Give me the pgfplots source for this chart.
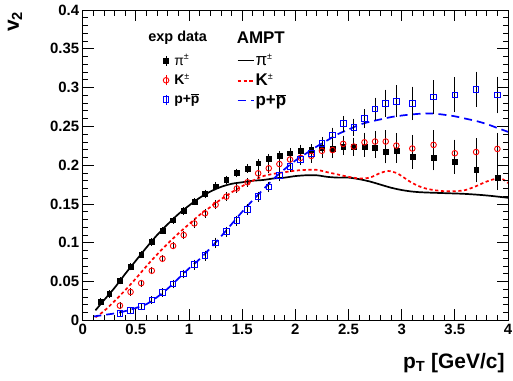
\documentclass[border=0pt]{standalone}
\usepackage{fontspec}
\setmainfont{Liberation Sans}
\usepackage{pgfplots}
\pgfplotsset{compat=1.18}
\usepackage{pgfplotstable}

\pgfplotstableread{
x y e
0.17 0.024 0.002
0.25 0.034 0.002
0.35 0.051 0.002
0.45 0.069 0.002
0.55 0.085 0.002
0.65 0.101 0.002
0.75 0.116 0.002
0.85 0.129 0.002
0.95 0.141 0.002
1.05 0.153 0.002
1.15 0.163 0.003
1.25 0.173 0.003
1.35 0.181 0.003
1.45 0.190 0.003
1.55 0.196 0.003
1.65 0.2025 0.003
1.75 0.208 0.004
1.85 0.212 0.004
1.95 0.2155 0.004
2.05 0.219 0.005
2.15 0.2196 0.005
2.25 0.223 0.006
2.35 0.2215 0.007
2.45 0.224 0.008
2.55 0.2235 0.009
2.65 0.2235 0.010
2.75 0.2226 0.011
2.85 0.217 0.012
2.95 0.219 0.013
3.1 0.211 0.013
3.3 0.210 0.014
3.5 0.205 0.0135
3.7 0.194 0.0135
3.9 0.184 0.0135
}\pion

\pgfplotstableread{
x y e
0.35 0.019 0.002
0.45 0.0366 0.002
0.55 0.048 0.002
0.65 0.064 0.002
0.75 0.0795 0.002
0.85 0.096 0.002
0.95 0.110 0.002
1.05 0.125 0.003
1.15 0.138 0.003
1.25 0.149 0.003
1.35 0.1594 0.003
1.45 0.170 0.003
1.55 0.178 0.003
1.65 0.1895 0.004
1.75 0.196 0.004
1.85 0.2015 0.004
1.95 0.2073 0.005
2.05 0.2095 0.005
2.15 0.212 0.006
2.25 0.2185 0.006
2.35 0.2195 0.007
2.45 0.2275 0.008
2.55 0.224 0.009
2.65 0.2295 0.010
2.75 0.2305 0.011
2.85 0.2305 0.012
2.95 0.2253 0.013
3.1 0.2215 0.015
3.3 0.2262 0.0165
3.5 0.2154 0.015
3.7 0.217 0.015
3.9 0.221 0.018
}\kaon

\pgfplotstableread{
x y e
0.35 0.009 0.002
0.45 0.0125 0.002
0.55 0.0177 0.002
0.65 0.0263 0.002
0.75 0.036 0.003
0.85 0.047 0.003
0.95 0.0598 0.003
1.05 0.0718 0.004
1.15 0.0834 0.004
1.25 0.100 0.004
1.35 0.1143 0.004
1.45 0.1285 0.004
1.55 0.143 0.004
1.65 0.1594 0.004
1.75 0.172 0.004
1.85 0.187 0.005
1.95 0.1985 0.005
2.05 0.2076 0.005
2.15 0.2155 0.006
2.25 0.228 0.006
2.35 0.2388 0.007
2.45 0.2535 0.0075
2.55 0.249 0.0086
2.65 0.260 0.0097
2.75 0.2724 0.012
2.85 0.2798 0.015
2.95 0.2825 0.018
3.1 0.2798 0.019
3.3 0.288 0.019
3.5 0.2905 0.020
3.7 0.298 0.020
3.9 0.2905 0.021
}\proton

\pgfplotstableread{
x y
0.12 0.013
0.2 0.026
0.3 0.042
0.4 0.060
0.5 0.077
0.6 0.094
0.7 0.110
0.8 0.124
0.9 0.137
1.0 0.148
1.1 0.158
1.2 0.166
1.3 0.172
1.4 0.176
1.5 0.178
1.6 0.180
1.7 0.181
1.8 0.183
1.9 0.184
2.0 0.186
2.1 0.187
2.2 0.187
2.3 0.185
2.4 0.184
2.5 0.184
2.6 0.182
2.7 0.179
2.8 0.175
2.9 0.171
3.0 0.168
3.1 0.166
3.2 0.165
3.4 0.164
3.6 0.163
3.8 0.161
4.0 0.158
}\amptpi

\pgfplotstableread{
x y
0.12 0.004
0.2 0.012
0.3 0.025
0.4 0.039
0.5 0.054
0.6 0.070
0.7 0.085
0.8 0.099
0.9 0.112
1.0 0.124
1.1 0.136
1.2 0.146
1.3 0.156
1.4 0.165
1.5 0.173
1.6 0.180
1.7 0.186
1.8 0.189
1.9 0.191
2.0 0.193
2.1 0.194
2.2 0.194
2.3 0.191
2.4 0.188
2.5 0.185
2.6 0.183
2.7 0.184
2.8 0.190
2.875 0.1925
2.95 0.190
3.0 0.186
3.1 0.177
3.2 0.171
3.3 0.168
3.4 0.1665
3.5 0.1665
3.6 0.168
3.7 0.173
3.8 0.179
3.9 0.183
3.95 0.182
4.0 0.177
}\amptk

\pgfplotstableread{
x y
0.1 0.005
0.2 0.007
0.3 0.009
0.4 0.012
0.5 0.016
0.6 0.021
0.7 0.030
0.8 0.041
0.9 0.054
1.0 0.067
1.1 0.079
1.2 0.093
1.3 0.108
1.4 0.124
1.5 0.140
1.6 0.155
1.7 0.169
1.8 0.183
1.9 0.195
2.0 0.206
2.1 0.215
2.2 0.224
2.3 0.232
2.4 0.240
2.5 0.246
2.6 0.252
2.7 0.256
2.8 0.259
2.9 0.262
3.0 0.264
3.1 0.2655
3.2 0.2665
3.3 0.2665
3.4 0.265
3.5 0.263
3.6 0.260
3.7 0.257
3.8 0.253
3.9 0.248
4.0 0.243
}\amptp

\newcommand{\pbar}{$\overline{\mbox{p}}$}
\newcommand{\spm}{\textsuperscript{\fontsize{9}{9}\selectfont\mdseries ±}}

\begin{document}
\begin{tikzpicture}
\path[use as bounding box] (-82.7bp,-60.6bp) rectangle (430.3bp,320.4bp);
\pgfplotsset{
  common/.style={
    at={(0bp,0bp)}, anchor=south west,
    scale only axis, width=425.3bp, height=310.4bp,
    xmin=0, xmax=4, ymin=0, ymax=0.4,
  }
}
% AMPT curves
\begin{axis}[common, hide axis,
  legend style={at={(axis description cs:0.362,0.862)}, anchor=north west,
    draw=none, fill=none, inner sep=0pt, row sep=5bp,
    font=\fontsize{17}{17}\selectfont\bfseries,
    nodes={inner sep=1bp}},
  legend cell align=left,
  legend image code/.code={\draw[#1] (0bp,0bp) -- (16bp,0bp);},
]
\addplot[black, line width=1.7bp, smooth] table[x=x,y=y] {\amptpi};
\addlegendentry{{\mdseries π}\spm}
\addplot[red, line width=1.7bp, smooth, dash pattern=on 3.2bp off 2.6bp] table[x=x,y=y] {\amptk};
\addlegendentry{K\spm}
\addplot[blue, line width=1.7bp, smooth, dash pattern=on 8bp off 5bp] table[x=x,y=y] {\amptp};
\addlegendentry{p+\pbar}
\end{axis}
% data
\begin{axis}[common,
  axis line style={line width=1pt},
  tick align=inside,
  tick style={line width=0.8pt, black},
  major tick length=11bp, minor tick length=5.5bp,
  xtick={0,0.5,1,1.5,2,2.5,3,3.5,4},
  xticklabels={0,0.5,1,1.5,2,2.5,3,3.5,4},
  ytick={0,0.05,0.1,0.15,0.2,0.25,0.3,0.35,0.4},
  yticklabels={0,0.05,0.1,0.15,0.2,0.25,0.3,0.35,0.4},
  minor x tick num=4, minor y tick num=4,
  ticklabel style={font=\fontsize{15}{15}\selectfont\bfseries},
  xlabel={p\textsubscript{T} [GeV/c]},
  ylabel={v\textsubscript{2}},
  label style={font=\fontsize{21}{21}\selectfont\bfseries},
  xlabel style={at={(axis description cs:1,-0.155)}, anchor=base east},
  ylabel style={at={(axis description cs:-0.15,1.006)}, anchor=base east, rotate=0},
  legend style={at={(axis description cs:0.188,0.862)}, anchor=north west,
    draw=none, fill=none, inner sep=0pt, row sep=4.7bp,
    font=\fontsize{14}{14}\selectfont\bfseries,
    nodes={inner sep=1.5bp}},
  legend cell align=left,
  legend image code/.code={\draw[#1, mark=none, solid, line width=0.8pt] (0bp,-5bp) -- (0bp,5bp);
     \draw[#1] plot coordinates {(0bp,0bp)};
     \path (-3bp,0bp) (6.5bp,0bp);},
  error bars/y dir=both, error bars/y explicit,
  error bars/error bar style={line width=0.8pt, black},
  error bars/error mark options={mark size=2bp, line width=0.8pt, black},
]
\addplot[only marks, black, mark=square*, mark size=2.4bp] table[x=x,y=y,y error=e] {\pion};
\addlegendentry{{\mdseries π}\spm}
\addplot[only marks, red, mark=o, mark size=2.8bp, mark options={line width=0.9pt}] table[x=x,y=y,y error=e] {\kaon};
\addlegendentry{K\spm}
\addplot[only marks, blue, mark=square, mark size=2.8bp, mark options={line width=0.9pt}] table[x=x,y=y,y error=e] {\proton};
\addlegendentry{p+\pbar}
\node[anchor=base west, font=\fontsize{14.5}{14.5}\selectfont\bfseries, inner sep=0pt] at (axis description cs:0.154,0.897) {exp data};
\node[anchor=base west, font=\fontsize{17}{17}\selectfont\bfseries, inner sep=0pt] at (axis description cs:0.362,0.893) {AMPT};
\end{axis}
\end{tikzpicture}
\end{document}
